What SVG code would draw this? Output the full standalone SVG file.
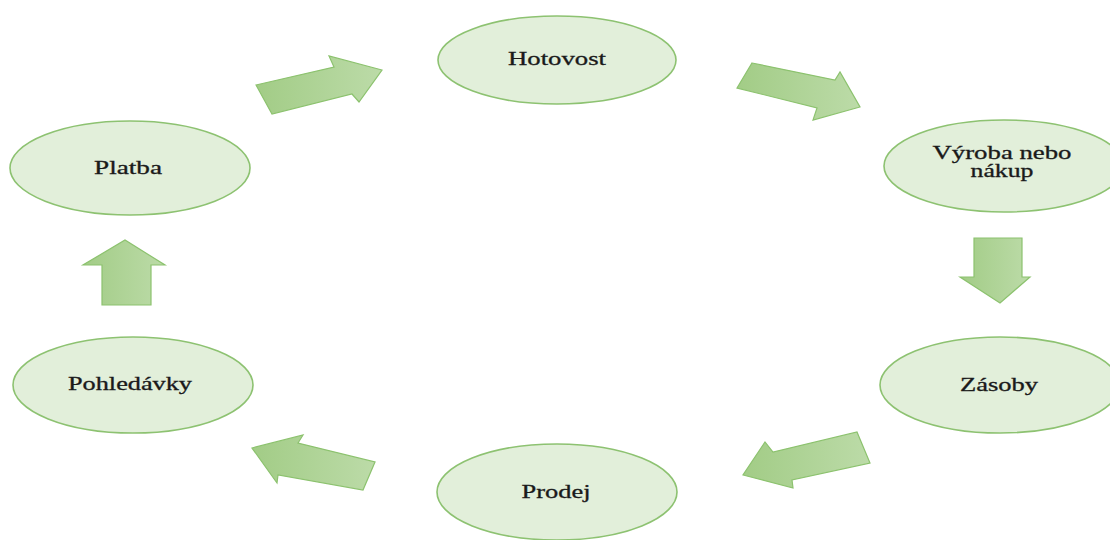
<svg xmlns="http://www.w3.org/2000/svg" width="1110" height="540" viewBox="0 0 1110 540">
<defs>
<linearGradient id="g" x1="0" y1="0" x2="1" y2="0">
<stop offset="0" stop-color="#a2cc86"/>
<stop offset="1" stop-color="#bcdba8"/>
</linearGradient>
</defs>
<style>
.node ellipse{fill:#e2efda;stroke:#8dc271;stroke-width:1.6}
.node text{font-family:"Liberation Serif","Times New Roman",serif;font-size:18px;fill:#1a1a1a;stroke:#1a1a1a;stroke-width:0.3;text-anchor:middle}
.arrow{fill:url(#g);stroke:#8cc26e;stroke-width:1.2;stroke-linejoin:miter}
</style>
<rect width="1110" height="540" fill="#ffffff"/>
<g id="connectors">
<polygon class="arrow" points="256,85 334,67 329,56 382,70 359,102 352,94 272,114"/>
<polygon class="arrow" points="752,63 835,80 840,72 860,107 813,120 817,108 737,88"/>
<polygon class="arrow" points="974,238 1022,238 1022,277 1030,277 1000,303 960,277 974,277"/>
<polygon class="arrow" points="857,432 870,463 792,480 793,488 743,475 765,442 773,452"/>
<polygon class="arrow" points="375,462 363,490 278,475 277,483 252,448 303,435 298,443"/>
<polygon class="arrow" points="102,305 151,305 151,265 165,265 125,240 83,265 102,265"/>
</g>
<g id="hotovost" class="node">
<ellipse cx="557" cy="60" rx="119" ry="44"/>
<text x="557" y="65" textLength="98" lengthAdjust="spacingAndGlyphs">Hotovost</text>
</g>
<g id="vyroba" class="node">
<ellipse cx="1004" cy="166" rx="120" ry="46"/>
<text x="1002" y="159" textLength="139" lengthAdjust="spacingAndGlyphs">Výroba nebo</text>
<text x="1002" y="177" textLength="63" lengthAdjust="spacingAndGlyphs">nákup</text>
</g>
<g id="zasoby" class="node">
<ellipse cx="1000" cy="385" rx="120" ry="48"/>
<text x="999" y="391" textLength="78" lengthAdjust="spacingAndGlyphs">Zásoby</text>
</g>
<g id="prodej" class="node">
<ellipse cx="557" cy="492" rx="120" ry="48"/>
<text x="556" y="498" textLength="69" lengthAdjust="spacingAndGlyphs">Prodej</text>
</g>
<g id="pohledavky" class="node">
<ellipse cx="133" cy="385" rx="120" ry="48"/>
<text x="130" y="390" textLength="124" lengthAdjust="spacingAndGlyphs">Pohledávky</text>
</g>
<g id="platba" class="node">
<ellipse cx="130" cy="168" rx="120" ry="47"/>
<text x="128" y="174" textLength="68" lengthAdjust="spacingAndGlyphs">Platba</text>
</g>
</svg>
